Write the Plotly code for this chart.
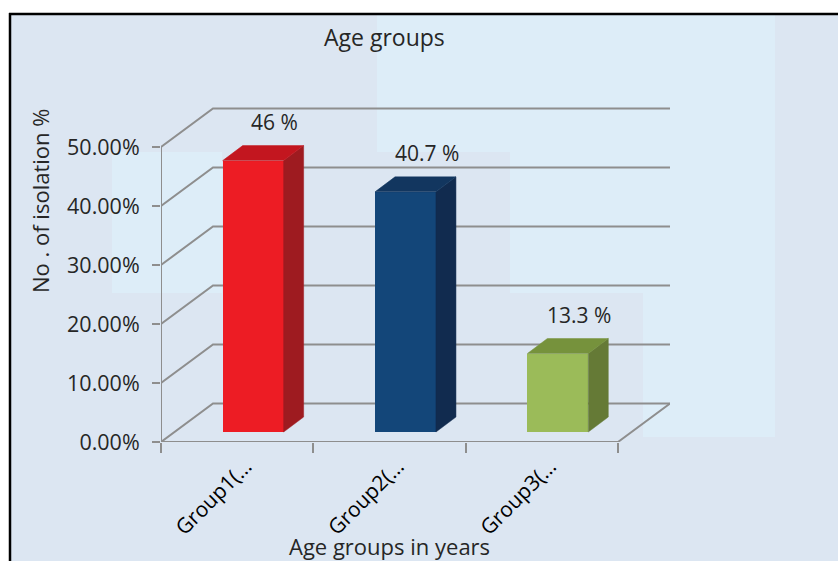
import plotly.graph_objects as go

# ---------------- data ----------------
categories = ["Group1(…", "Group2(…", "Group3(…"]
values = [46.0, 40.7, 13.3]
value_labels = ["46 %", "40.7 %", "13.3 %"]
y_ticks = [0, 10, 20, 30, 40, 50]
y_tick_labels = ["0.00%", "10.00%", "20.00%", "30.00%", "40.00%", "50.00%"]
front_colors = ["#ED1C24", "#134679", "#9BBB59"]
side_colors = ["#9E1B20", "#112B4F", "#657A36"]
top_colors = ["#C3161F", "#12365F", "#76923C"]

# ---------------- geometry ----------------
W, H = 838, 561
L, R, T, B = 161, 168, 60, 119
PX_X = 152.33          # pixels per category
PX_Y = 5.9             # pixels per percent
PW, PH = W - L - R, H - T - B
XR = [-0.5, -0.5 + PW / PX_X]
YR = [0, PH / PX_Y]
DX, DY = 52 / PX_X, 38.5 / PX_Y      # wall depth
BX, BY0 = 0.105, 10 / PX_Y           # bar front plane offset
BW = 0.4
BDX, BDY = 20 / PX_X, 15 / PX_Y      # bar depth
LBL_X = 0.055                        # tick-label anchor offset
NCAT = len(categories)
XEND = NCAT - 0.5

GRID = "#8E8E8E"
TXT = "#262626"
FONT = "Open Sans"


def px(xpix):
    return (xpix - L) / PW


def py(ypix):
    return (H - B - ypix) / PH


shapes = []
# light background panels
for x0, y0, x1, y1 in [(377, 13, 775, 152), (112, 152, 222, 293),
                       (510, 152, 775, 293), (643, 293, 775, 437)]:
    shapes.append(dict(type="rect", xref="paper", yref="paper",
                       x0=px(x0), x1=px(x1), y0=py(y1), y1=py(y0),
                       fillcolor="#DDEDF8", line_width=0, layer="below"))
# white margins + black frame
shapes.append(dict(type="rect", xref="paper", yref="paper", x0=px(-5), x1=px(W + 5),
                   y0=py(13), y1=py(-5), fillcolor="white", line_width=0, layer="below"))
shapes.append(dict(type="rect", xref="paper", yref="paper", x0=px(-5), x1=px(10),
                   y0=py(H + 5), y1=py(-5), fillcolor="white", line_width=0, layer="below"))
shapes.append(dict(type="line", xref="paper", yref="paper", x0=px(9), x1=px(W + 5),
                   y0=py(14), y1=py(14), line=dict(color="black", width=2.5)))
shapes.append(dict(type="line", xref="paper", yref="paper", x0=px(10), x1=px(10),
                   y0=py(13), y1=py(H + 5), line=dict(color="black", width=2.5)))

# back wall gridlines with side-wall diagonals
for t in y_ticks:
    shapes.append(dict(type="path", xref="x", yref="y",
                       path=f"M {-0.5},{t} L {-0.5 + DX},{t + DY} L {XEND + DX},{t + DY}",
                       line=dict(color=GRID, width=2), layer="below"))
# floor front edge + right edge, vertical axis line
shapes.append(dict(type="path", xref="x", yref="y",
                   path=f"M {-0.5},0 L {XEND},0 L {XEND + DX},{DY}",
                   line=dict(color=GRID, width=2), layer="below"))
shapes.append(dict(type="line", xref="x", yref="y", x0=-0.5, x1=-0.5, y0=0, y1=y_ticks[-1],
                   line=dict(color=GRID, width=2), layer="below"))

fig = go.Figure()
xc = [i + BX for i in range(NCAT)]
fig.add_trace(go.Bar(x=xc, y=values, base=BY0, width=BW,
                     marker=dict(color=front_colors, line_width=0),
                     hoverinfo="skip", showlegend=False))

for i, v in enumerate(values):
    x0, x1 = xc[i] - BW / 2, xc[i] + BW / 2
    yb, yt = BY0, BY0 + v
    # side face
    fig.add_trace(go.Scatter(
        x=[x1, x1 + BDX, x1 + BDX, x1, x1],
        y=[yb, yb + BDY, yt + BDY, yt, yb],
        fill="toself", fillcolor=side_colors[i], mode="lines",
        line=dict(width=0.5, color=side_colors[i]), hoverinfo="skip", showlegend=False))
    # top face
    fig.add_trace(go.Scatter(
        x=[x0, x0 + BDX, x1 + BDX, x1, x0],
        y=[yt, yt + BDY, yt + BDY, yt, yt],
        fill="toself", fillcolor=top_colors[i], mode="lines",
        line=dict(width=0.5, color=top_colors[i]), hoverinfo="skip", showlegend=False))

annotations = []
for i, v in enumerate(values):
    annotations.append(dict(x=xc[i] + 0.14, y=BY0 + v + 6.6, xref="x", yref="y",
                            text=value_labels[i], showarrow=False,
                            font=dict(size=21, color=TXT, family=FONT),
                            xanchor="center", yanchor="middle"))
annotations.append(dict(x=px(384), y=py(37), xref="paper", yref="paper", text="Age groups",
                        showarrow=False, font=dict(size=23, color=TXT, family=FONT),
                        xanchor="center", yanchor="middle"))
annotations.append(dict(x=px(40), y=py(201), xref="paper", yref="paper",
                        text="No . of isolation %", textangle=-90,
                        showarrow=False, font=dict(size=22, color=TXT, family=FONT),
                        xanchor="center", yanchor="middle"))
annotations.append(dict(x=px(389), y=py(546), xref="paper", yref="paper",
                        text="Age groups in years",
                        showarrow=False, font=dict(size=22, color=TXT, family=FONT),
                        xanchor="center", yanchor="middle"))

fig.update_layout(
    width=W, height=H,
    margin=dict(l=L, r=R, t=T, b=B, autoexpand=False),
    paper_bgcolor="#DCE6F2", plot_bgcolor="rgba(0,0,0,0)",
    shapes=shapes, annotations=annotations, showlegend=False,
    bargap=0,
    xaxis=dict(range=XR, tickvals=[i + LBL_X for i in range(NCAT)], ticktext=categories,
               tickangle=-45, ticks="", showgrid=False, zeroline=False, showline=False,
               ticklabelstandoff=7,
               tickfont=dict(size=21, color="black", family=FONT), automargin=False),
    xaxis2=dict(range=XR, overlaying="x", anchor="y", side="bottom",
                tickvals=[i - 0.5 for i in range(NCAT + 1)], ticks="outside",
                ticklen=10, tickwidth=2, tickcolor=GRID, showticklabels=False,
                showgrid=False, zeroline=False, showline=False, automargin=False),
    yaxis=dict(range=YR, tickvals=y_ticks, ticktext=y_tick_labels, ticks="outside",
               ticklen=8, tickwidth=2, tickcolor=GRID, showgrid=False, zeroline=False,
               showline=False, ticklabelstandoff=8,
               tickfont=dict(size=21.5, color=TXT, family=FONT), automargin=False),
)
# invisible trace to activate xaxis2
fig.add_trace(go.Scatter(x=[XR[0]], y=[0], xaxis="x2", mode="markers",
                         marker=dict(opacity=0), hoverinfo="skip", showlegend=False))

fig.write_html("out.html")
